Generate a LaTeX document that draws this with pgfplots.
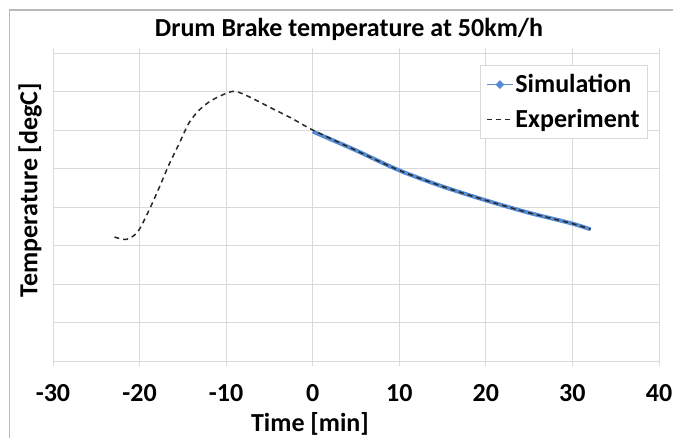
\documentclass[border=0pt]{standalone}
\usepackage{fontspec}
\setmainfont{Carlito}
\usepackage{pgfplots}
\pgfplotsset{compat=1.18}

\definecolor{simblue}{RGB}{86,140,210}
\definecolor{gridgray}{RGB}{217,217,217}
\definecolor{expgray}{RGB}{40,40,40}
\newcommand{\lblfont}{\fontsize{26}{30}\selectfont\bfseries}

\begin{document}
\begin{tikzpicture}
\useasboundingbox (0,0) rectangle (673pt,438pt);
\draw[gray!55, line width=1.5pt] (9.5pt,0) -- (9.5pt,428pt) -- (673pt,428pt);
\begin{axis}[
    at={(53pt,77pt)}, anchor=south west,
    scale only axis,
    width=606pt, height=308pt,
    xmin=-30, xmax=40, ymin=0, ymax=400,
    xtick={-30,-20,...,40},
    ytick={0,50,...,400},
    yticklabels={},
    grid=major,
    major grid style={gridgray, line width=0.8pt},
    axis line style={gridgray, line width=0.8pt},
    xtick style={gridgray, line width=0.8pt},
    ytick style={draw=none},
    tick align=outside,
    major tick length=5pt,
    /pgf/number format/assume math mode=true,
    every tick label/.append style={font=\lblfont, text=black},
    xticklabel style={anchor=center, yshift=-27pt},
    title={\lblfont Drum Brake temperature at 50km/h},
    title style={at={(axis description cs:0.5,1)}, anchor=center, yshift=18pt, xshift=-7pt},
    xlabel={\lblfont Time [min]},
    ylabel={\lblfont Temperature [degC]},
    xlabel style={at={(axis description cs:0.5,0)}, anchor=center, yshift=-63pt, xshift=-46pt},
    ylabel style={at={(axis description cs:0,0.5)}, anchor=center, yshift=23pt, xshift=17pt},
    legend style={at={(0.982,0.96)}, anchor=north east, draw=gridgray,
        line width=0.8pt, font=\lblfont,
        inner xsep=6pt, inner ysep=7pt, row sep=11pt},
    legend cell align=left,
]
\addplot[simblue, line width=4pt, smooth,
    legend image code/.code={
        \draw[simblue, line width=1.2pt] (0cm,0cm) -- (0.9cm,0cm);
        \fill[simblue] (0.45cm,0cm) circle (1.6pt);}]
coordinates {
(0,298) (4.9,274) (9.9,248) (14.9,227) (19.9,209) (24.8,193) (29.8,179) (32.1,171)
};
\addlegendentry{Simulation}
\addplot[expgray, line width=1.5pt, dash pattern=on 5pt off 4pt, smooth,
    legend image code/.code={
        \draw[expgray, line width=1.5pt, dash pattern=on 5pt off 4pt] (0cm,0cm) -- (0.9cm,0cm);}]
coordinates {
(-22.9,161) (-21.5,158) (-20.2,168) (-18.9,196) (-17.7,226) (-16.6,255)
(-15.4,283) (-14.3,309) (-13.1,326) (-11.6,339) (-9.3,350) (-7.7,345)
(-4.7,328) (-2.4,315) (0,300) (4.9,274) (9.9,248) (14.9,227) (19.9,209)
(24.8,193) (29.8,179) (32.1,171)
};
\addlegendentry{Experiment}
\end{axis}
\end{tikzpicture}
\end{document}
